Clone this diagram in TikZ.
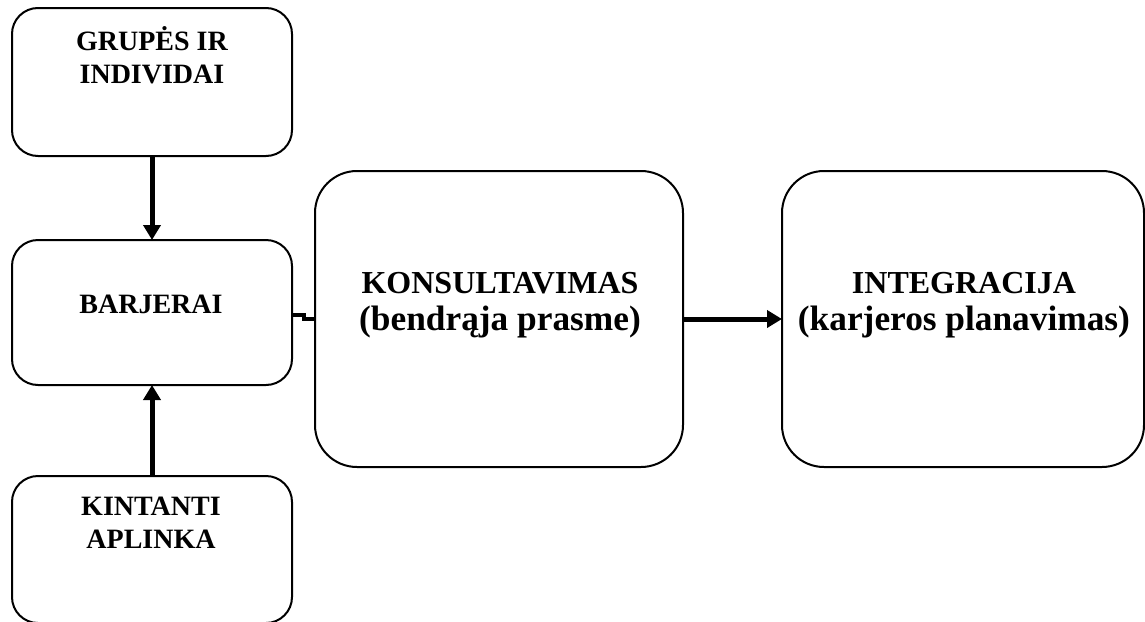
\documentclass[tikz,border=0pt]{standalone}
\usepackage{fontspec}
\setmainfont{Liberation Serif}
\usetikzlibrary{arrows.meta}

\begin{document}
\begin{tikzpicture}[x=0.75pt, y=-0.75pt,
  smallbox/.style={draw, line width=1.5pt, rounded corners=19.5pt,
    minimum width=210pt, inner sep=0pt, outer sep=0pt},
  bigbox/.style={draw, line width=1.5pt, rounded corners=31.5pt,
    minimum height=222pt, inner sep=0pt, outer sep=0pt},
  sidetext/.style={font=\bfseries\fontsize{21}{24.5}\selectfont,
    align=center, inner sep=0pt},
  maintext/.style={font=\bfseries\fontsize{24}{27.75}\selectfont,
    align=center, inner sep=0pt},
  flow/.style={line width=3.75pt,
    -{Triangle[length=11.25pt, width=12.75pt]}},
  joint/.style={line width=3pt}
]
  % page area
  \fill[white] (0,0) rectangle (1145,621);
  \useasboundingbox (0,0) rectangle (1145,621);
  \clip (0,0) rectangle (1145,621);

  % left column
  \node[smallbox, minimum height=111pt]    (grp) at (152,82) {};
  \node[smallbox, minimum height=108.75pt] (bar) at (152,312.5) {};
  \node[smallbox, minimum height=110.25pt] (kin) at (152,549.5) {};

  % main boxes
  \node[bigbox, minimum width=276pt]   (kons)  at (499,319) {};
  \node[bigbox, minimum width=271.5pt] (integ) at (963,319) {};

  % texts
  \node[sidetext] (grpT) at (152,55) {GRUPĖS IR\\INDIVIDAI};
  \node[sidetext, anchor=base] (barT) at (151,313) {BARJERAI};
  \node[sidetext] (kinT) at (151,523) {KINTANTI\\APLINKA};
  \node[maintext] (konsT) at (500,305.5)
    {KONSULTAVIMAS\\\fontsize{26.5}{27.75}\selectfont(bendrąja prasme)};
  \node[maintext] (integT) at (964,305.5)
    {INTEGRACIJA\\\fontsize{26.5}{27.75}\selectfont(karjeros planavimas)};

  % connectors
  \draw[flow] (grp.south) -- (bar.north);
  \draw[flow] (kin.north) -- (bar.south);
  \draw[flow] (kons.east) -- (kons.east -| integ.west);

  \coordinate (step) at (304,317);
  \draw[joint] (bar.east |- 0,315) -- (step |- 0,315)
               -- (step |- 0,319) -- (kons.west |- 0,319);
\end{tikzpicture}
\end{document}
